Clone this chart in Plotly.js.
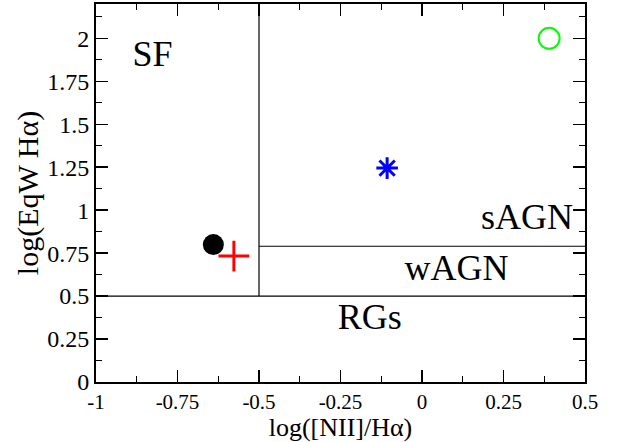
<!DOCTYPE html>
<html><head><meta charset="utf-8">
<script src="https://cdn.plot.ly/plotly-3.0.1.min.js"></script>
<style>body{margin:0;padding:0;background:#fff}#chart{width:630px;height:442px}</style>
</head><body><div id="chart"></div>
<script>
// Data points
const pointNames = ["black", "red", "blue", "green"];
const pointX = [-0.64, -0.577, -0.107, 0.39];
const pointY = [0.80, 0.733, 1.245, 2.0];
const pointSymbols = ["circle", "cross-thin", "asterisk-open", "circle-open"];
const pointColors = ["#000000", "#ff0000", "#0000ff", "#00ff00"];

// Dividing lines
const sfLineX = [-0.5, -0.5];
const sfLineY = [0.5, 2.2];
const rgLineX = [-1, 0.5];
const rgLineY = [0.5, 0.5];
const agnLineX = [-0.5, 0.5];
const agnLineY = [0.79, 0.79];

// Region labels
const regionLabels = ["SF", "sAGN", "wAGN", "RGs"];
const regionX = [-0.827, 0.322, 0.106, -0.160];
const regionY = [1.892, 0.942, 0.645, 0.363];

// Tick labels
const xTickVals = [-1, -0.75, -0.5, -0.25, 0, 0.25, 0.5];
const xTickText = ["-1", "-0.75", "-0.5", "-0.25", "0", "0.25", "0.5"];
const yTickVals = [0, 0.25, 0.5, 0.75, 1, 1.25, 1.5, 1.75, 2];
const yTickText = ["0", "0.25", "0.5", "0.75", "1", "1.25", "1.5", "1.75", "2"];

const font = "Liberation Serif, Times New Roman, serif";
const sizes = [21, 22, 18, 21];
const lineWidths = [0, 3, 3, 2];

const traces = [
  {x: sfLineX, y: sfLineY, mode: "lines", line: {color: "#000", width: 1.2}, hoverinfo: "skip"},
  {x: rgLineX, y: rgLineY, mode: "lines", line: {color: "#000", width: 1.2}, hoverinfo: "skip"},
  {x: agnLineX, y: agnLineY, mode: "lines", line: {color: "#000", width: 1.2}, hoverinfo: "skip"}
];
for (let i = 0; i < pointX.length; i++) {
  traces.push({
    x: [pointX[i]], y: [pointY[i]], mode: "markers", name: pointNames[i],
    marker: {symbol: pointSymbols[i], size: sizes[i], color: pointColors[i],
             line: {color: pointColors[i], width: lineWidths[i]}}
  });
}
traces.push({x: regionX, y: regionY, mode: "text", text: regionLabels,
  textfont: {family: font, size: 36, color: "#000"}, hoverinfo: "skip"});

const layout = {
  width: 630, height: 442,
  margin: {l: 96, r: 45, t: 4, b: 60},
  showlegend: false,
  paper_bgcolor: "#fff", plot_bgcolor: "#fff",
  font: {family: font, color: "#000"},
  xaxis: {
    range: [-1, 0.5], showgrid: false, zeroline: false,
    showline: true, linecolor: "#000", linewidth: 2, mirror: "allticks",
    ticks: "inside", ticklen: 12, tickwidth: 1.5, tickcolor: "#000",
    tickvals: xTickVals, ticktext: xTickText,
    tickfont: {family: font, size: 21, color: "#000"},
    minor: {ticks: "inside", dtick: 0.125, tick0: 0, ticklen: 6, tickwidth: 1, tickcolor: "#000"},
    title: {text: "log([NII]/Hα)", font: {family: font, size: 26, color: "#000"}, standoff: 6}
  },
  yaxis: {
    range: [0, 2.2], showgrid: false, zeroline: false,
    showline: true, linecolor: "#000", linewidth: 2, mirror: "allticks",
    ticks: "inside", ticklen: 12, tickwidth: 1.5, tickcolor: "#000",
    tickvals: yTickVals, ticktext: yTickText,
    tickfont: {family: font, size: 24, color: "#000"},
    minor: {ticks: "inside", dtick: 0.125, tick0: 0, ticklen: 6, tickwidth: 1, tickcolor: "#000"},
    title: {text: "log(EqW Hα)", font: {family: font, size: 30, color: "#000"}, standoff: 0}
  }
};
Plotly.newPlot("chart", traces, layout, {displayModeBar: false, staticPlot: true});
</script></body></html>
